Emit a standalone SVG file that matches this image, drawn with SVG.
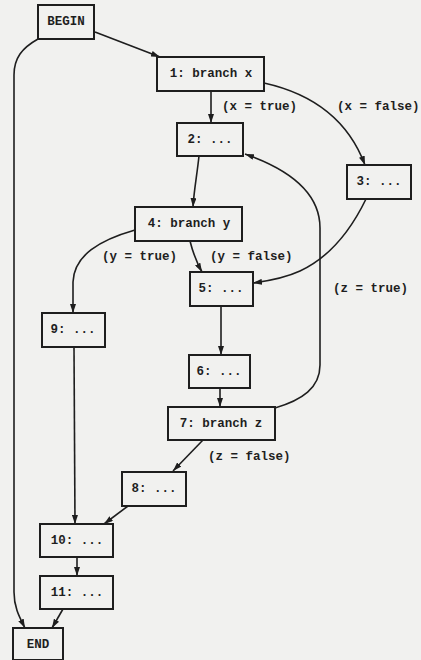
<svg xmlns="http://www.w3.org/2000/svg" width="421" height="660" viewBox="0 0 421 660">
  <defs>
    <marker id="arrow" viewBox="0 0 9 6" refX="9" refY="3" markerWidth="9" markerHeight="6" markerUnits="userSpaceOnUse" orient="auto">
      <path d="M0,0 L9,3 L0,6 z" fill="#1e1e1e"/>
    </marker>
    <style>
      .node rect { fill: #f1f1ef; stroke: #1e1e1e; stroke-width: 2; }
      .node text, .lbl { font-family: "Liberation Mono", "Courier New", monospace; font-weight: bold; font-size: 12.5px; fill: #1e1e1e; }
      .node text { text-anchor: middle; dominant-baseline: central; }
      #edges path { fill: none; stroke: #1e1e1e; stroke-width: 1.6; marker-end: url(#arrow); }
    </style>
  </defs>
  <rect width="421" height="660" fill="#f1f1ef"/>

  <!-- connectors -->
  <g id="edges">
    <path d="M95,32 L160,57"/>
    <path d="M38,39 C22,48 14,58 14,75 L14,592 C14,608 20,618 25,628"/>
    <path d="M211,91 L211,123"/>
    <path d="M264,83 C318,95 350,125 365,165"/>
    <path d="M199,156 C197,175 194,190 193,207"/>
    <path d="M275,408 C302,400 320,388 320,365 L320,228 C320,190 285,168 245,154"/>
    <path d="M366,199 C350,232 330,257 300,271 C285,278 268,281 253,283"/>
    <path d="M190,241 C193,253 197,263 202,272"/>
    <path d="M135,230 C100,240 74,255 73,282 L73,313"/>
    <path d="M221,306 L221,355"/>
    <path d="M220,388 L220,407"/>
    <path d="M203,440 L173,471"/>
    <path d="M74,347 L75,524"/>
    <path d="M128,506 L104,524"/>
    <path d="M77,557 L77,576"/>
    <path d="M63,609 L52,628"/>
  </g>

  <!-- edge labels -->
  <g id="labels">
    <text class="lbl" x="222" y="110">(x = true)</text>
    <text class="lbl" x="337" y="110">(x = false)</text>
    <text class="lbl" x="102" y="260">(y = true)</text>
    <text class="lbl" x="210" y="260">(y = false)</text>
    <text class="lbl" x="333" y="292">(z = true)</text>
    <text class="lbl" x="208" y="460">(z = false)</text>
  </g>

  <!-- nodes -->
  <g id="begin" class="node"><rect x="38" y="5" width="56" height="34"/><text x="66" y="22">BEGIN</text></g>
  <g id="n1" class="node"><rect x="157" y="57" width="107" height="34"/><text x="211" y="74">1: branch x</text></g>
  <g id="n2" class="node"><rect x="177" y="123" width="66" height="33"/><text x="210" y="140">2: ...</text></g>
  <g id="n3" class="node"><rect x="347" y="165" width="64" height="34"/><text x="379" y="182">3: ...</text></g>
  <g id="n4" class="node"><rect x="135" y="207" width="107" height="34"/><text x="189" y="224">4: branch y</text></g>
  <g id="n5" class="node"><rect x="190" y="272" width="63" height="34"/><text x="221" y="289">5: ...</text></g>
  <g id="n9" class="node"><rect x="42" y="313" width="63" height="34"/><text x="73" y="330">9: ...</text></g>
  <g id="n6" class="node"><rect x="189" y="355" width="61" height="33"/><text x="219" y="372">6: ...</text></g>
  <g id="n7" class="node"><rect x="168" y="407" width="107" height="33"/><text x="221" y="424">7: branch z</text></g>
  <g id="n8" class="node"><rect x="122" y="472" width="64" height="34"/><text x="154" y="489">8: ...</text></g>
  <g id="n10" class="node"><rect x="40" y="524" width="73" height="33"/><text x="77" y="541">10: ...</text></g>
  <g id="n11" class="node"><rect x="40" y="576" width="73" height="33"/><text x="77" y="593">11: ...</text></g>
  <g id="end" class="node"><rect x="13" y="628" width="50" height="32"/><text x="38" y="645">END</text></g>
</svg>
